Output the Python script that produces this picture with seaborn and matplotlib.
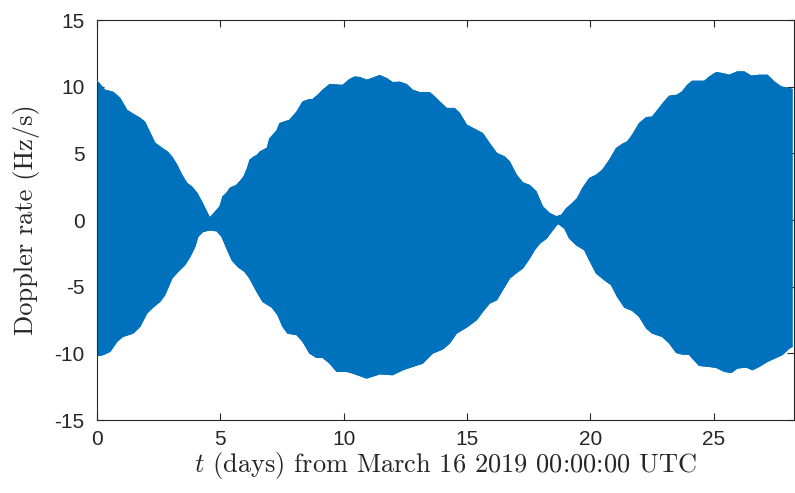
import numpy as np
import matplotlib
matplotlib.use("Agg")
import matplotlib.pyplot as plt
import seaborn as sns

# Upper envelope of the Doppler rate (Hz/s) vs time (days)
days_upper = [0.0, 0.32, 0.65, 0.93, 1.21, 1.46, 1.74, 1.94, 2.15, 2.35, 2.63, 2.87, 3.04, 3.24,
              3.44, 3.64, 3.85, 4.05, 4.25, 4.57, 4.98, 5.1, 5.25, 5.4, 5.65, 5.8, 5.95, 6.1,
              6.2, 6.35, 6.5, 6.6, 6.9, 7.0, 7.29, 7.41, 7.81, 8.1, 8.34, 8.62, 8.74, 8.95,
              9.15, 9.43, 9.96, 10.24, 10.45, 10.65, 10.93, 11.13, 11.46, 11.74, 11.98, 12.27,
              12.55, 12.79, 13.08, 13.48, 13.68, 13.89, 14.17, 14.49, 14.7, 14.98, 15.38, 15.63,
              15.91, 16.2, 16.52, 16.72, 17.0, 17.25, 17.53, 17.8, 18.06, 18.34, 18.62, 18.83,
              19.03, 19.27, 19.47, 19.68, 19.96, 20.24, 20.49, 20.77, 21.05, 21.3, 21.5, 21.7,
              21.98, 22.27, 22.5, 22.67, 22.99, 23.2, 23.5, 23.72, 23.93, 24.13, 24.62, 24.82,
              25.1, 25.34, 25.63, 25.95, 26.23, 26.52, 26.84, 27.17, 27.45, 27.73, 28.06, 28.18]
upper = [10.43, 9.74, 9.59, 9.14, 8.24, 7.94, 7.64, 7.34, 6.52, 5.77, 5.39, 5.09, 4.72, 4.12,
         3.37, 2.77, 2.47, 2.02, 1.35, 0.15, 1.0, 1.75, 2.0, 2.4, 2.6, 2.9, 3.24, 3.9,
         4.5, 4.72, 4.87, 5.1, 5.4, 6.1, 6.7, 7.24, 7.49, 8.11, 8.86, 9.04, 9.04, 9.36,
         9.74, 10.16, 10.1, 10.54, 10.73, 10.69, 10.49, 10.61, 10.84, 10.61, 10.31, 10.34,
         10.16, 9.74, 9.56, 9.56, 9.24, 8.86, 8.37, 8.37, 7.99, 7.12, 6.74, 6.49,
         5.74, 5.0, 4.74, 4.37, 3.37, 2.8, 2.6, 2.12, 1.0, 0.5, 0.25, 0.37,
         0.87, 1.25, 1.62, 2.37, 3.12, 3.37, 3.75, 4.49, 5.37, 5.69, 5.87, 6.37,
         7.24, 7.69, 7.72, 8.11, 8.86, 9.29, 9.36, 9.61, 10.11, 10.41, 10.41, 10.73,
         11.06, 10.99, 10.86, 11.11, 11.11, 10.79, 10.86, 10.86, 10.36, 9.99, 9.86, 9.8]

# Lower envelope
days_lower = [0.0, 0.24, 0.53, 0.81, 1.05, 1.46, 1.74, 2.02, 2.27, 2.55, 2.75, 3.04, 3.28, 3.56,
              3.77, 3.97, 4.09, 4.29, 4.57, 4.86, 5.06, 5.26, 5.47, 5.71, 5.99, 6.19, 6.48,
              6.72, 7.09, 7.33, 7.53, 7.73, 8.1, 8.34, 8.62, 8.9, 9.15, 9.43, 9.72, 10.12,
              10.36, 10.93, 11.46, 11.98, 12.39, 12.79, 13.2, 13.6, 14.0, 14.29, 14.57, 14.98,
              15.38, 15.63, 15.91, 16.2, 16.44, 16.72, 17.0, 17.25, 17.53, 17.73, 17.94, 18.22,
              18.42, 18.68, 18.95, 19.15, 19.43, 19.76, 19.96, 20.24, 20.57, 20.85, 21.09, 21.38,
              21.7, 21.98, 22.27, 22.51, 22.91, 23.2, 23.48, 23.72, 24.0, 24.13, 24.41, 24.82,
              25.1, 25.43, 25.71, 25.95, 26.32, 26.56, 26.84, 27.17, 27.53, 27.77, 28.06, 28.18]
lower = [-10.19, -10.11, -9.86, -9.11, -8.74, -8.49, -7.99, -6.99, -6.54, -6.12, -5.62, -4.37,
         -3.87, -3.37, -2.75, -2.0, -1.25, -0.87, -0.75, -0.82, -1.25, -2.12, -3.0, -3.5,
         -3.87, -4.37, -5.37, -6.12, -6.54, -7.12, -7.99, -8.49, -8.61, -9.11, -9.99, -10.31,
         -10.31, -10.74, -11.36, -11.36, -11.48, -11.86, -11.54, -11.61, -11.24, -10.99, -10.74,
         -9.99, -9.69, -9.24, -8.49, -8.04, -7.49, -6.87, -6.24, -5.99, -5.24, -4.37, -3.95,
         -3.62, -2.87, -2.25, -1.75, -1.37, -0.87, -0.25, -0.62, -1.37, -1.87, -2.25, -3.0,
         -4.0, -4.49, -4.87, -5.74, -6.54, -6.79, -7.24, -8.11, -8.49, -8.74, -9.24, -9.94,
         -10.06, -10.06, -10.36, -10.91, -10.99, -11.06, -11.36, -11.44, -11.11, -11.03, -11.24,
         -10.99, -10.61, -10.31, -10.11, -9.61, -9.5]

x_ticks = [0, 5, 10, 15, 20, 25]
y_ticks = [-15, -10, -5, 0, 5, 10, 15]

sns.set_theme(style="white")
plt.rcParams['font.family'] = ['Liberation Sans', 'DejaVu Sans']
plt.rcParams['mathtext.fontset'] = 'cm'

BLUE = "#0072BD"
fig = plt.figure(figsize=(7.95, 4.93), dpi=100)
ax = fig.add_axes([97 / 795, 1 - 420 / 493, (794 - 97) / 795, 400 / 493])

poly_x = np.r_[np.array(days_upper), np.array(days_lower)[::-1]]
poly_y = np.r_[np.array(upper), np.array(lower)[::-1]]
ax.fill(poly_x, poly_y, color=BLUE, linewidth=0.6, edgecolor=BLUE, zorder=2)
sns.lineplot(x=days_upper, y=upper, ax=ax, color=BLUE, linewidth=0.8, zorder=3)
sns.lineplot(x=days_lower, y=lower, ax=ax, color=BLUE, linewidth=0.8, zorder=3)

ax.set_xlim(0, 28.25)
ax.set_ylim(-15, 15)
ax.set_xticks(x_ticks)
ax.set_yticks(y_ticks)
ax.set_xticklabels([str(t) for t in x_ticks])
ax.set_yticklabels([str(t) for t in y_ticks])
ax.tick_params(direction='in', length=5, width=0.8, colors='#262626', labelsize=15,
               top=True, right=True, bottom=True, left=True, pad=7)
ax.tick_params(axis='y', pad=9)
for s in ax.spines.values():
    s.set_visible(True)
    s.set_color('#262626')
    s.set_linewidth(0.8)

ax.set_xlabel(r"$t$ (days) from March 16 2019 00:00:00 UTC", fontsize=19,
              family=['cmr10', 'DejaVu Serif'], color='#262626', labelpad=1)
ax.set_ylabel("Doppler rate (Hz/s)", fontsize=19,
              family=['cmr10', 'DejaVu Serif'], color='#262626', labelpad=10)

fig.savefig("out.png", dpi=100)
